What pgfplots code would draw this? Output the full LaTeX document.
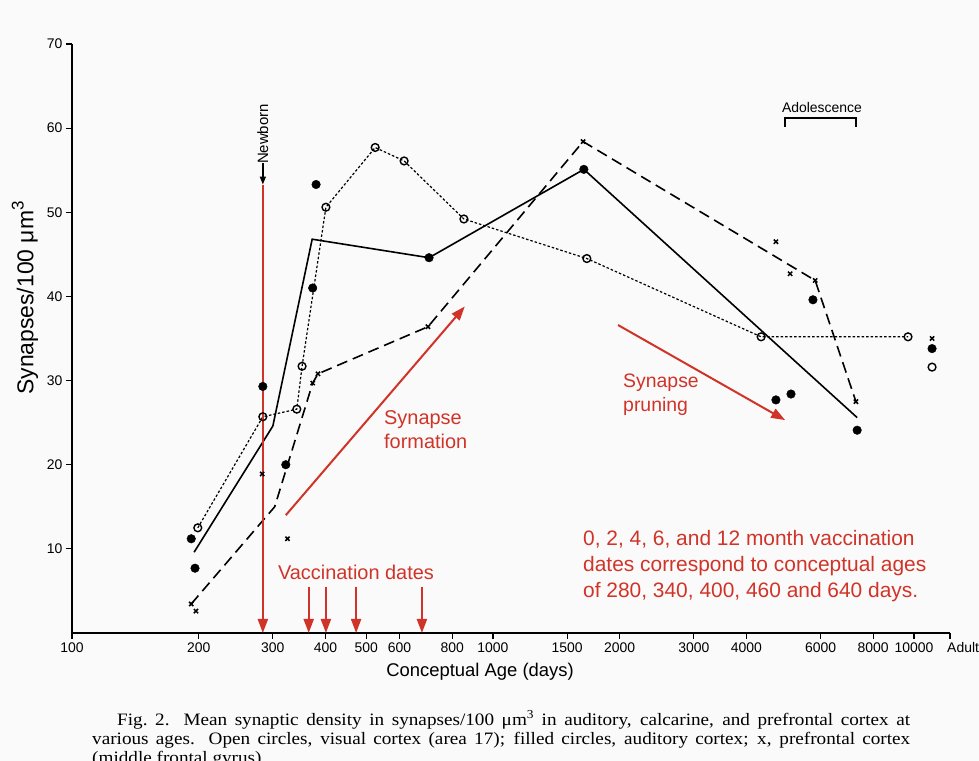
\documentclass[border=0pt]{standalone}
\usepackage{fontspec}
\setmainfont{Liberation Sans}
\newfontfamily\capfont[FakeStretch=1.1]{Liberation Serif}
\usepackage{pgfplots}
\pgfplotsset{compat=1.18}
\usetikzlibrary{arrows.meta}
\definecolor{annot}{RGB}{208,52,40}
\definecolor{bg}{RGB}{250,250,250}

\begin{document}
\begin{tikzpicture}[x=1bp,y=1bp,
  varrow/.style={annot, line width=2bp, -{Triangle[width=10bp,length=14bp]}}]
\fill[bg] (0,0) rectangle (979,761);
\useasboundingbox (0,0) rectangle (979,761);

\begin{axis}[
  at={(72bp,128bp)}, anchor=south west,
  scale only axis, width=878bp, height=589bp,
  xmode=log, xmin=100, xmax=12180, ymin=0, ymax=70,
  axis x line*=bottom, axis y line*=left,
  axis line style={line width=1.4bp},
  xtick={100,200,300,400,500,600,800,1000,1500,2000,3000,4000,6000,8000,10000,12180},
  xticklabels={100,200,300,400,500,600,800,1000,1500,2000,3000,4000,6000,8000,10000,},
  xminorticks=false,
  ytick={10,20,...,70},
  tick align=outside, major tick length=6bp,
  tick style={line width=1.2bp, black},
  tick label style={font=\fontsize{14}{16}\selectfont},
  /pgf/number format/assume math mode=true,
  clip=false,
]
% visual cortex (open circles)
\addplot[black, line width=1.2bp, dash pattern=on 2.5bp off 2bp, mark=o, mark size=3.9bp,
  mark options={solid, fill=white, line width=1.4bp}]
  coordinates {(199,12.5) (284,25.7) (342,26.6) (352,31.7) (401,50.6) (525,57.7)
               (615,56.1) (853,49.2) (1671,44.5) (4335,35.2) (9680,35.2)};
\addplot[only marks, black, mark=o, mark size=3.9bp, mark options={fill=white, line width=1.4bp}]
  coordinates {(11040,31.6)};

% auditory cortex (filled circles) + fitted line
\addplot[black, line width=1.6bp, mark=none]
  coordinates {(195,9.6) (300,24.6) (372,46.8) (705,44.6) (1644,55.1) (7330,25.6)};
\addplot[only marks, black, mark=*, mark size=4.3bp]
  coordinates {(192,11.2) (196,7.7) (284,29.3) (322,20.0) (373,41.0) (380,53.3) (705,44.6)
               (1644,55.1) (4700,27.7) (5104,28.4) (5755,39.6) (7330,24.1) (11040,33.8)};

% prefrontal cortex (x) + dashed line
\addplot[black, line width=1.6bp, dash pattern=on 11bp off 6bp, mark=none]
  coordinates {(192,3.45) (303,15.0) (373,29.7) (384,30.8) (701,36.4) (1637,58.4) (5825,41.9) (7280,27.5)};
\addplot[only marks, black, mark=x, mark size=3bp, mark options={line width=1.5bp}]
  coordinates {(192,3.45) (197,2.6) (283,18.9) (325,11.2) (373,29.7) (384,30.8) (701,36.4)
               (1637,58.4) (4700,46.5) (5080,42.7) (5825,41.9) (7280,27.5) (11040,35.0)};

% newborn + vaccination arrows
\draw[black, line width=1.4bp, -{Triangle[width=6bp,length=8bp]}] (axis cs:284,55.8) -- (axis cs:284,53.3);
\node[rotate=90, font=\fontsize{15}{17}\selectfont] at (axis cs:284,59.3) {Newborn};
\draw[varrow] (axis cs:284,53.3) -- (axis cs:284,0);
\draw[varrow] (axis cs:365,5.5) -- (axis cs:365,0);
\draw[varrow] (axis cs:401,5.5) -- (axis cs:401,0);
\draw[varrow] (axis cs:473,5.5) -- (axis cs:473,0);
\draw[varrow] (axis cs:678,5.5) -- (axis cs:678,0);
\draw[varrow] (axis cs:322,14.0) -- (axis cs:857,38.8);
\draw[varrow] (axis cs:1982,36.6) -- (axis cs:4943,25.3);
\end{axis}

% labels
\node[rotate=90, font=\fontsize{23}{26}\selectfont] at (25,463)
  {Synapses/100 μm\raisebox{0.42em}{\fontsize{17}{17}\selectfont 3}};
\node[font=\fontsize{18.5}{22}\selectfont] at (480,89) {Conceptual Age (days)};
\node[anchor=west, inner sep=0, font=\fontsize{14}{16}\selectfont] at (947,113) {Adult};

% adolescence bracket
\node[font=\fontsize{14}{16}\selectfont] at (822,653) {Adolescence};
\draw[line width=1.3bp] (785,634) -- (785,643) -- (856,643) -- (856,634);

% red annotations
\node[annot, font=\fontsize{20}{24}\selectfont] at (356,189) {Vaccination dates};
\node[annot, anchor=west, align=left, inner sep=0, font=\fontsize{20}{24}\selectfont] at (384,331) {Synapse\\formation};
\node[annot, anchor=west, align=left, inner sep=0, font=\fontsize{19.5}{24}\selectfont] at (623,366) {Synapse\\pruning};
\node[annot, anchor=west, align=left, inner sep=0, font=\fontsize{21}{26}\selectfont] at (583,195)
  {0, 2, 4, 6, and 12 month vaccination\\dates correspond to conceptual ages\\of 280, 340, 400, 460 and 640 days.};

% caption
\node[anchor=north west, inner sep=0, text width=818bp, align=justify,
  font=\capfont\fontsize{17.5}{19.2}\selectfont] at (92,50.5)
  {\hspace*{25bp}Fig.~2.\hspace{0.8em}Mean synaptic density in synapses/100 μm\textsuperscript{3} in auditory, calcarine, and prefrontal cortex at\linebreak
   various ages. Open circles, visual cortex (area 17); filled circles, auditory cortex; x, prefrontal cortex\linebreak
   (middle frontal gyrus).};
\end{tikzpicture}
\end{document}
